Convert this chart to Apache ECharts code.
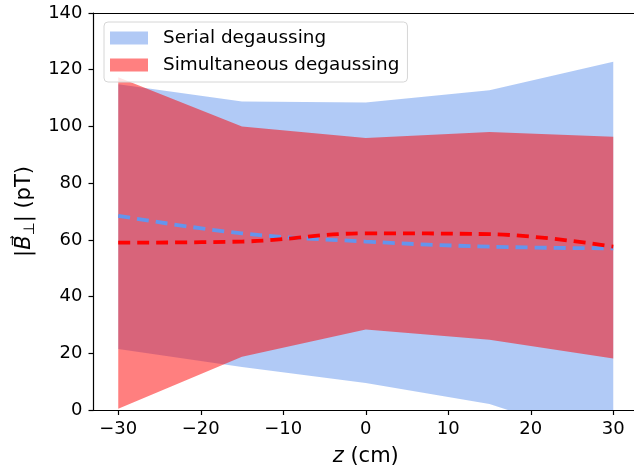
<!DOCTYPE html>
<html><head><meta charset="utf-8">
<script src="https://cdn.jsdelivr.net/npm/echarts@6/dist/echarts.min.js"></script>
<style>html,body{margin:0;padding:0;background:#fff;width:100%;height:100%;overflow:hidden}#c{width:100vw;height:100vh}</style>
</head><body><div id="c"></div>
<script>
// Data
const zPos = [-30, -15, 0, 15, 30];
const serialLow = [21.5, 15.2, 9.5, 2.1, -12.0];
const serialHigh = [114.9, 108.8, 108.4, 112.8, 122.8];
const serialMean = [68.5, 62.3, 59.4, 57.6, 57.0];
const simulLow = [0.4, 18.8, 28.4, 24.8, 18.2];
const simulHigh = [117.3, 100.0, 95.9, 98.0, 96.4];
const simulMean = [59.0, 59.4, 62.3, 62.0, 57.6];
const xTicks = [-30, -20, -10, 0, 10, 20, 30];

const FONT = 'DejaVu Sans';
const pairs = (ys) => zPos.map((z, i) => [z, ys[i]]);
const minus = (v) => String(v).replace('-', '\u2212');

function bandSeries(name, lo, hi, fill) {
  return {
    type: 'custom', name: name, coordinateSystem: 'cartesian2d',
    data: [[zPos[0], lo[0]]],
    itemStyle: {color: fill},
    renderItem: function (params, api) {
      const pts = [];
      for (let i = 0; i < zPos.length; i++) pts.push(api.coord([zPos[i], hi[i]]));
      for (let i = zPos.length - 1; i >= 0; i--) pts.push(api.coord([zPos[i], lo[i]]));
      const cs = params.coordSys;
      return {
        type: 'polygon', shape: {points: pts}, style: {fill: fill, stroke: null},
        clipPath: {type: 'rect', shape: {x: cs.x, y: cs.y, width: cs.width, height: cs.height}}
      };
    }
  };
}

const chart = echarts.init(document.getElementById('c'), null, {renderer: 'canvas'});
chart.setOption({
  animation: false,
  textStyle: {fontFamily: FONT},
  grid: {left: 93.5, right: -4, top: 13, bottom: 56, containLabel: false, outerBoundsMode: 'none'},
  legend: {
    orient: 'vertical', left: 104, top: 22,
    padding: [6, 8, 7, 6],
    itemWidth: 38, itemHeight: 13, itemGap: 7,
    backgroundColor: 'rgba(255,255,255,0.8)',
    borderColor: '#d6d6d6', borderWidth: 1, borderRadius: 4,
    textStyle: {fontFamily: FONT, fontSize: 18.4, color: '#000', lineHeight: 20, padding: [0, 0, 0, 10]},
    data: [
      {name: 'Serial degaussing', icon: 'rect', itemStyle: {color: '#b1c9f5'}},
      {name: 'Simultaneous degaussing', icon: 'rect', itemStyle: {color: '#ff8080'}}
    ]
  },
  xAxis: [{
    type: 'value', min: -33, max: 33, position: 'bottom',
    name: '{i|z} (cm)', nameLocation: 'middle', nameGap: 36,
    nameTextStyle: {fontFamily: FONT, fontSize: 21, color: '#000', rich: {i: {fontStyle: 'italic', fontFamily: FONT, fontSize: 21}}},
    axisLine: {show: true, onZero: false, lineStyle: {color: '#000', width: 1.2}},
    axisTick: {show: true, length: 5, lineStyle: {color: '#000', width: 1.2}, customValues: xTicks},
    axisLabel: {fontFamily: FONT, fontSize: 18, color: '#000', margin: 10, customValues: xTicks, formatter: minus},
    splitLine: {show: false}
  }, {
    type: 'value', min: -33, max: 33, position: 'top',
    axisLine: {show: true, onZero: false, lineStyle: {color: '#000', width: 1.2}},
    axisTick: {show: false}, axisLabel: {show: false}, splitLine: {show: false}
  }],
  yAxis: {
    type: 'value', min: 0, max: 140, interval: 20,
    name: '|{b|B\u20D7}{s|\u22A5}| (pT)', nameLocation: 'middle', nameGap: 52, nameRotate: 90,
    nameTextStyle: {fontFamily: FONT, fontSize: 21, color: '#000', rich: {
      b: {fontStyle: 'italic', fontFamily: FONT, fontSize: 21},
      s: {fontFamily: FONT, fontSize: 15, padding: [10, 0, 0, 0]}
    }},
    axisLine: {show: true, onZero: false, lineStyle: {color: '#000', width: 1.2}},
    axisTick: {show: true, length: 5, lineStyle: {color: '#000', width: 1.2}},
    axisLabel: {fontFamily: FONT, fontSize: 18, color: '#000', margin: 11},
    splitLine: {show: false}
  },
  series: [
    bandSeries('Serial degaussing', serialLow, serialHigh, 'rgba(100,149,237,0.5)'),
    bandSeries('Simultaneous degaussing', simulLow, simulHigh, 'rgba(255,0,0,0.5)'),
    {type: 'line', name: 'serialMean', data: pairs(serialMean), smooth: 0.4, symbol: 'none',
     lineStyle: {color: '#6495ED', width: 3.8, type: [12, 7]}},
    {type: 'line', name: 'simulMean', data: pairs(simulMean), smooth: 0.4, symbol: 'none',
     lineStyle: {color: '#ff0000', width: 3.8, type: [12, 7]}}
  ]
});
</script></body></html>
